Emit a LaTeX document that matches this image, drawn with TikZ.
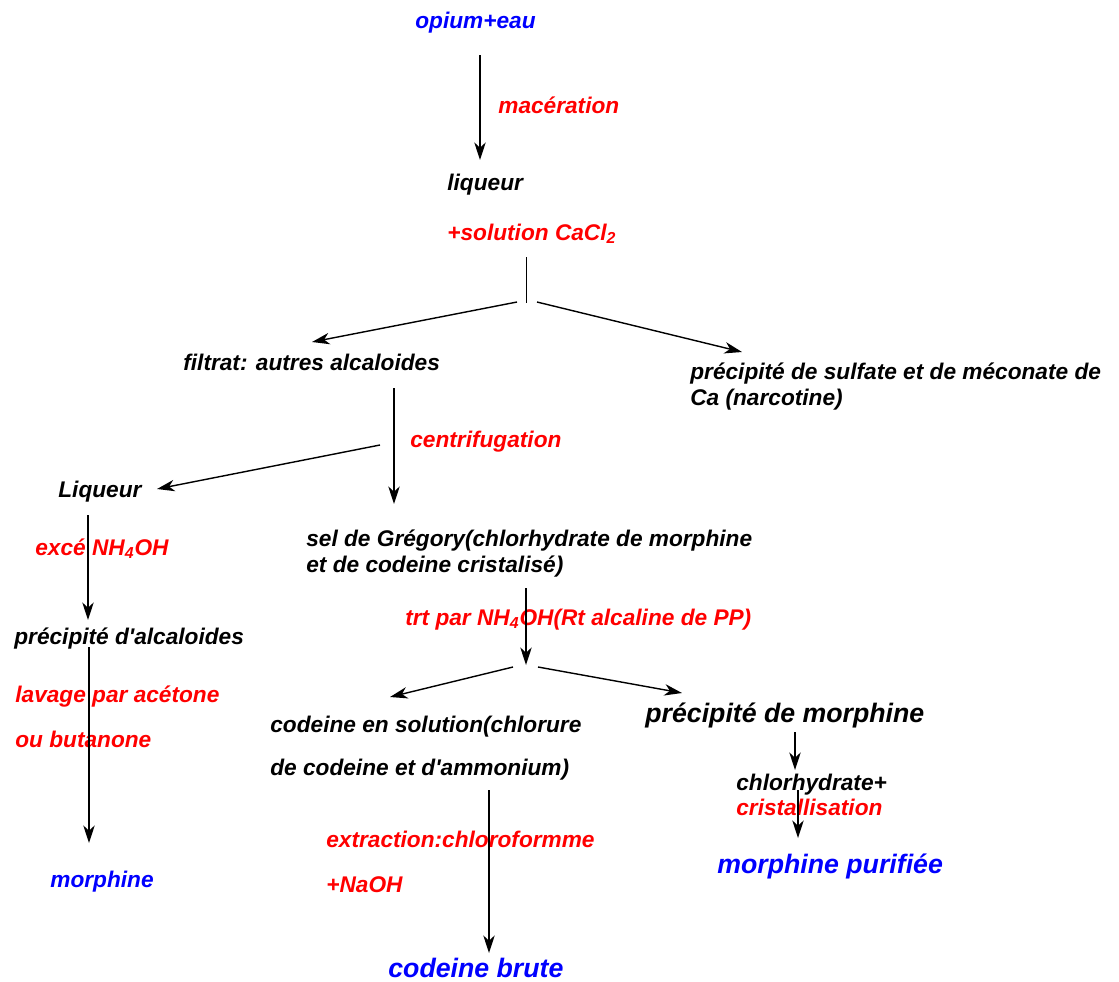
\documentclass[tikz,border=0pt]{standalone}
\usepackage{fontspec}
\setmainfont{Liberation Sans}
\usetikzlibrary{arrows.meta, calc}

\begin{document}
\begin{tikzpicture}[
        x=0.02cm, y=-0.02cm,
        txt/.style={anchor=base west, inner sep=0pt, align=left, font=\fontsize{12.9}{14.5}\selectfont\bfseries\itshape},
        cond/.style={txt, text=red},
        prod/.style={txt, text=blue},
        big/.style={font=\fontsize{15.2}{18}\selectfont\bfseries\itshape},
        flow/.style={-{Stealth[length=10pt, width=6.5pt, inset=3pt]}, line width=0.8pt},
        tie/.style={line width=0.5pt}
    ]
        \useasboundingbox (0,0) rectangle (1119,981);

        % texts
        \node[prod] (opium) at (415,28) {opium+eau};
        \node[cond] (mac) at (498,113) {macération};
        \node[txt] (liq) at (447,190) {liqueur};
        \node[cond] (cacl) at (447,240) {+solution CaCl\textsubscript{2}};
        \node[txt] (filtrat) at (183,370) {filtrat: autres alcaloides};
        \node[txt] (sulfate) at (690,405) {précipité de sulfate et de méconate de\\Ca (narcotine)};
        \node[cond] (centri) at (410,447) {centrifugation};
        \node[txt] (liqueur2) at (58,497) {Liqueur};
        \node[txt] (gregory) at (306,572) {sel de Grégory(chlorhydrate de morphine\\et de codeine cristalisé)};
        \node[cond] (nhexc) at (35,555) {excé NH\textsubscript{4}OH};
        \node[txt] (precalc) at (14,644) {précipité d\textquotesingle alcaloides};
        \node[cond] (lavage) at (15,702) {lavage par acétone};
        \node[cond] (butan) at (15,747) {ou butanone};
        \node[prod] (morph) at (50,887) {morphine};
        \node[cond] (trt) at (405,625) {trt par NH\textsubscript{4}OH(Rt alcaline de PP)};
        \node[txt] (codsol) at (270,732) {codeine en solution(chlorure};
        \node[txt] (codsolb) at (270,775) {de codeine et d\textquotesingle ammonium)};
        \node[txt, big] (precmorph) at (645,722) {précipité de morphine};
        \node[txt] (chlor) at (736,790) {chlorhydrate+};
        \node[cond] (cristal) at (736,815) {cristallisation};
        \node[prod, big] (purif) at (717,873) {morphine purifiée};
        \node[cond] (extr) at (326,847) {extraction:chloroformme};
        \node[cond] (naoh) at (326,892) {+NaOH};
        \node[prod, big] (brute) at (388,977) {codeine brute};

        % split points
        \coordinate (split1) at (526,303);
        \coordinate (split2) at (526,665);

        % connectors
        \draw[flow] ($(opium.base west)+(65,27)$) -- ($(liq.base west)+(33,-30)$);
        \draw[tie] ($(cacl.base west)+(79,17)$) -- (split1);
        \draw[flow] ($(split1)+(-9,-1)$) -- ($(filtrat.base west)+(129,-28)$);
        \draw[flow] ($(split1)+(11,-1)$) -- ($(sulfate.base west)+(52,-53)$);
        \draw[flow] ($(filtrat.base west)+(211,18)$) -- ($(gregory.base west)+(88,-68)$);
        \draw[flow] ($(filtrat.base west)+(197,75)$) -- ($(liqueur2.base west)+(99,-8)$);
        \draw[flow] ($(liqueur2.base west)+(30,18)$) -- ($(precalc.base west)+(74,-24)$);
        \draw[flow] ($(precalc.base west)+(75,3)$) -- ($(morph.base west)+(39,-44)$);
        \draw[flow] ($(gregory.base west)+(220,16)$) -- (split2);
        \draw[flow] ($(split2)+(-13,2)$) -- ($(codsol.base west)+(120,-35)$);
        \draw[flow] ($(split2)+(12,2)$) -- ($(precmorph.base west)+(37,-29)$);
        \draw[flow] ($(precmorph.base west)+(150,10)$) -- ($(chlor.base west)+(59,-20)$);
        \draw[flow] ($(chlor.base west)+(62,0)$) -- ($(purif.base west)+(81,-35)$);
        \draw[flow] ($(codsolb.base west)+(219,15)$) -- ($(brute.base west)+(101,-24)$);
    \end{tikzpicture}
\end{document}
